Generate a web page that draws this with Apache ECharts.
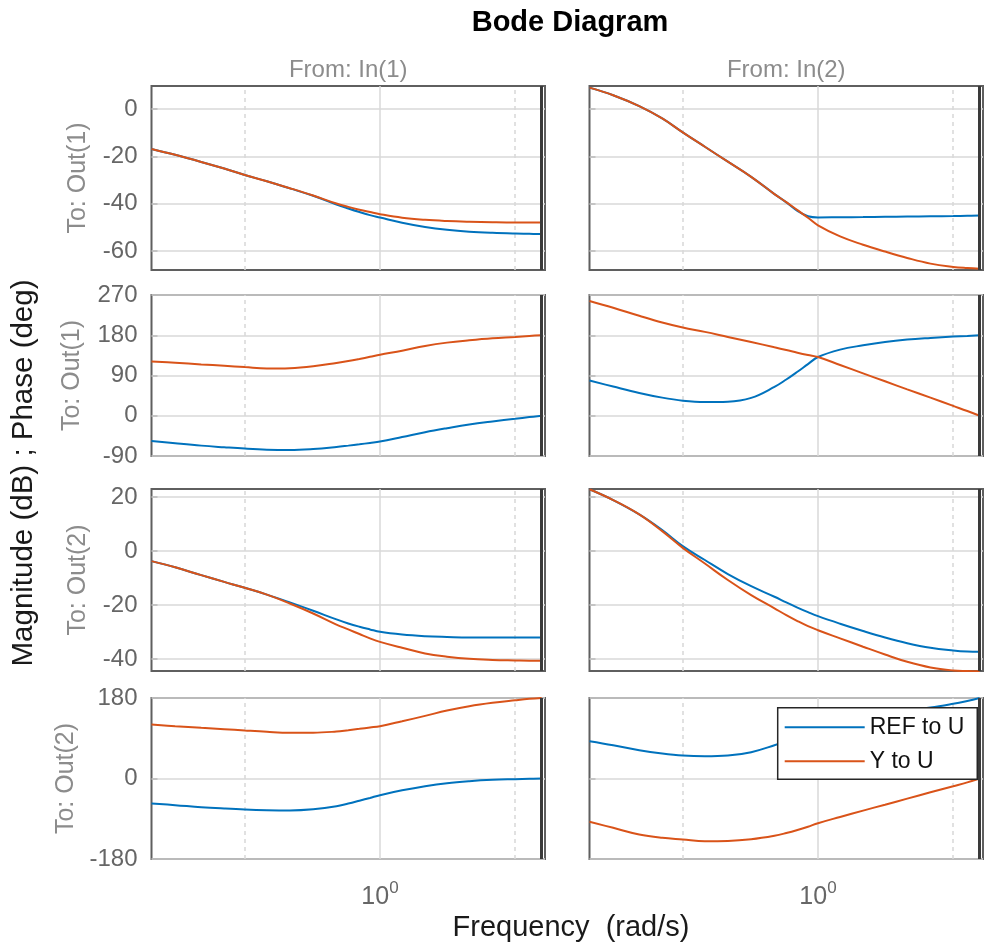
<!DOCTYPE html>
<html><head><meta charset="utf-8">
<script src="https://cdn.jsdelivr.net/npm/echarts@6/dist/echarts.min.js"></script>
<style>html,body{margin:0;padding:0;background:#fff}#c{width:988px;height:949px}</style>
</head><body><div id="c"></div>
<script>
// ---------- data ----------
const freq = [0.31,0.35,0.4,0.45,0.5,0.56,0.63,0.71,0.8,0.85,0.9,0.95,1.0,1.12,1.26,1.41,1.58,1.78,2.0,2.15,2.29];
const freqRange = [0.31, 2.33];
const nyquistFreq = 2.29;
const xMinorGrid = [0.5, 2];
const xMajorGrid = [1];
const xTickLabels = [1];
const seriesNames = ['REF to U', 'Y to U'];
const colLabels = ['From: In(1)', 'From: In(2)'];
const rowLabels = ['To: Out(1)', 'To: Out(1)', 'To: Out(2)', 'To: Out(2)'];
const yTicksRow = [[-60,-40,-20,0],[-90,0,90,180,270],[-40,-20,0,20],[-180,0,180]];
const yRangeRow = [[-68,9.8],[-90,270],[-44.4,23],[-180,180]];

// Out(1) magnitude (dB)
const magOut1In1Ref = [-16.8,-19.3,-22.3,-25.1,-27.8,-30.5,-33.5,-36.6,-40.3,-42.0,-43.5,-44.8,-45.8,-48.0,-49.8,-51.0,-51.8,-52.3,-52.6,-52.7,-52.8];
const magOut1In1Y   = [-16.8,-19.3,-22.3,-25.1,-27.8,-30.5,-33.4,-36.5,-39.9,-41.3,-42.5,-43.5,-44.4,-45.9,-46.8,-47.3,-47.6,-47.8,-47.9,-47.9,-47.9];
const magOut1In2Ref = [9.1,5.9,1.3,-3.9,-9.8,-15.9,-22.2,-28.6,-35.9,-39.4,-43.0,-45.3,-45.8,-45.7,-45.6,-45.5,-45.4,-45.3,-45.2,-45.1,-45.0];
const magOut1In2Y   = [9.1,5.9,1.3,-3.9,-9.8,-15.9,-22.2,-28.6,-35.9,-39.3,-42.7,-45.9,-49.1,-53.8,-57.3,-60.2,-62.9,-65.3,-66.7,-67.2,-67.5];
// Out(1) phase (deg)
const phOut1In1Ref = [-56.3,-61.5,-66.8,-70.5,-73.5,-75.8,-76.5,-74.3,-69.8,-66.8,-63.8,-60.8,-57.8,-47.7,-36.8,-27.8,-19.5,-12.7,-6.8,-3.0,0];
const phOut1In1Y   = [121.5,118.5,114.8,111.8,108.8,105.6,106.3,110.5,118.0,122.3,127.0,131.8,136.5,145.5,156.0,163.5,168.8,173.3,176.3,178.5,180];
const phOut1In2Ref = [78.8,65.3,51.0,40.5,33.8,30.8,31.5,40.0,64.5,81.0,98.3,115.5,131.3,147.8,157.5,165.0,170.3,174.0,177.0,178.5,180];
const phOut1In2Y   = [256.5,241.5,223.5,208.5,197.3,187.5,176.3,165.0,153.0,147.0,141.0,135.8,131.3,113.5,94.8,77.0,59.0,40.5,22.0,10.6,0];
// Out(2) magnitude (dB)
const magOut2In1Ref = [-3.7,-6.0,-8.9,-11.4,-13.6,-16.1,-19.0,-22.1,-25.3,-26.8,-28.0,-29.0,-29.9,-30.9,-31.5,-31.8,-32.0,-32.0,-32.0,-32.0,-32.0];
const magOut2In1Y   = [-3.7,-6.0,-8.9,-11.4,-13.6,-16.1,-19.4,-23.1,-27.2,-29.0,-30.7,-32.3,-33.6,-35.8,-37.9,-39.1,-39.9,-40.3,-40.5,-40.6,-40.6];
const magOut2In2Ref = [22.9,18.9,13.6,7.8,1.85,-3.3,-8.5,-13.0,-16.9,-19.0,-20.9,-22.6,-24.1,-26.9,-29.6,-32.0,-34.1,-35.8,-36.8,-37.2,-37.3];
const magOut2In2Y   = [22.9,18.9,13.6,7.4,1.2,-4.6,-10.7,-16.3,-21.2,-23.7,-25.9,-27.8,-29.3,-32.3,-35.4,-38.3,-41.0,-43.1,-44.2,-44.4,-44.5];
// Out(2) phase (deg)
const phOut2In1Ref = [-55.9,-59.6,-64.1,-67.1,-69.3,-70.8,-71.4,-68.8,-62.2,-56.0,-49.6,-43.4,-37.3,-26.5,-17.2,-10.4,-6.0,-3.0,-1.5,-0.7,0];
const phOut2In1Y   = [120.7,117.0,113.3,110.3,107.3,104.4,102.4,102.4,105.0,108.0,111.0,114.0,117.0,128.0,140.0,152.0,161.7,169.3,175.0,178.2,180];
const phOut2In2Ref = [83.5,74.5,63.3,55.9,51.4,49.9,51.4,58.9,74.5,84.0,94.0,103.0,111.0,125.0,137.0,146.0,153.0,158.5,167.0,173.5,180];
const phOut2In2Y   = [-96.9,-110.3,-125.2,-132.7,-136.4,-140.2,-139.6,-135.8,-128.0,-122.0,-115.2,-107.8,-100.0,-86.0,-71.8,-58.6,-45.0,-30.9,-17.2,-8.6,0];

const panelData = [
  [magOut1In1Ref, magOut1In1Y], [magOut1In2Ref, magOut1In2Y],
  [phOut1In1Ref, phOut1In1Y],   [phOut1In2Ref, phOut1In2Y],
  [magOut2In1Ref, magOut2In1Y], [magOut2In2Ref, magOut2In2Y],
  [phOut2In1Ref, phOut2In1Y],   [phOut2In2Ref, phOut2In2Y]
];

// ---------- layout / style ----------
const FONT = 'Liberation Sans, Arial, Helvetica, sans-serif';
const colLeft = [151.5, 589.5], colWidth = 393.5;
const rowTop = [86, 295, 489, 698], rowHeight = [184, 161, 182, 161];
const colors = ['#0072BD', '#D95319'];
const gridColor = '#d8d8d8', boxColor = '#5f5f5f', tickTextColor = '#666666', subLabelColor = '#8c8c8c';

const grids = [], xAxes = [], yAxes = [], series = [];
for (let r = 0; r < 4; r++) {
  for (let c = 0; c < 2; c++) {
    const g = r * 2 + c;
    grids.push({ left: colLeft[c], top: rowTop[r], width: colWidth, height: rowHeight[r],
      show: true, borderColor: boxColor, borderWidth: 2, backgroundColor: '#fff', containLabel: false });
    xAxes.push({
      type: 'log', logBase: 10, gridIndex: g, min: freqRange[0], max: freqRange[1],
      axisLine: { show: false }, axisTick: { show: false }, splitLine: { show: false },
      axisLabel: r === 3 ? {
        show: true, customValues: xTickLabels, margin: 21,
        formatter: () => '{b|10}{s|0}',
        rich: {
          b: { fontSize: 25, fontFamily: FONT, color: tickTextColor, lineHeight: 34 },
          s: { fontSize: 17, fontFamily: FONT, color: tickTextColor, lineHeight: 18, verticalAlign: 'top' }
        }
      } : { show: false }
    });
    yAxes.push({
      type: 'value', gridIndex: g, min: yRangeRow[r][0], max: yRangeRow[r][1],
      axisLine: { show: false }, splitLine: { show: false },
      axisTick: { show: true, inside: true, length: 6, customValues: yTicksRow[r], lineStyle: { color: boxColor, width: 1.5 } },
      axisLabel: c === 0 ? { show: true, customValues: yTicksRow[r], fontSize: 24, fontFamily: FONT, color: tickTextColor, margin: 14 } : { show: false }
    });
    for (let s = 0; s < 2; s++) {
      const ser = {
        type: 'line', name: seriesNames[s], xAxisIndex: g, yAxisIndex: g,
        data: freq.map((f, i) => [f, panelData[g][s][i]]),
        showSymbol: false, smooth: 0.4, clip: true,
        lineStyle: { color: colors[s], width: 2 }, itemStyle: { color: colors[s] },
        z: 3 + s, animation: false
      };
      if (s === 0) {
        ser.markLine = {
          silent: true, symbol: 'none', z: 1, animation: false, label: { show: false },
          lineStyle: { color: gridColor, width: 1.5, type: 'solid' },
          data: [
            ...xMinorGrid.map(v => ({ xAxis: v, lineStyle: { color: gridColor, width: 1.5, type: [4, 4] } })),
            ...xMajorGrid.map(v => ({ xAxis: v })),
            ...yTicksRow[r].map(v => ({ yAxis: v }))
          ]
        };
      } else {
        ser.markLine = {
          silent: true, symbol: 'none', z: 6, animation: false, label: { show: false },
          lineStyle: { color: '#3a3a3a', width: 3, type: 'solid' },
          data: [{ xAxis: nyquistFreq }]
        };
      }
      series.push(ser);
    }
  }
}

const texts = [];
texts.push({ type: 'text', x: 570, y: 23, style: { text: 'Bode Diagram', font: 'bold 29px ' + FONT, fill: '#000', textAlign: 'center', textVerticalAlign: 'middle' } });
for (let c = 0; c < 2; c++) {
  texts.push({ type: 'text', x: colLeft[c] + colWidth / 2, y: 70, style: { text: colLabels[c], font: '24px ' + FONT, fill: subLabelColor, textAlign: 'center', textVerticalAlign: 'middle' } });
}
const rowLabelX = [78, 72, 78, 66];
for (let r = 0; r < 4; r++) {
  texts.push({ type: 'text', x: rowLabelX[r], y: rowTop[r] + rowHeight[r] / 2, rotation: Math.PI / 2,
    style: { text: rowLabels[r], font: '25px ' + FONT, fill: subLabelColor, textAlign: 'center', textVerticalAlign: 'middle' } });
}
texts.push({ type: 'text', x: 24, y: 473, rotation: Math.PI / 2, style: { text: 'Magnitude (dB) ; Phase (deg)', font: '29.5px ' + FONT, fill: '#1a1a1a', textAlign: 'center', textVerticalAlign: 'middle' } });
texts.push({ type: 'text', x: 571, y: 928, style: { text: 'Frequency  (rad/s)', font: '29px ' + FONT, fill: '#1a1a1a', textAlign: 'center', textVerticalAlign: 'middle' } });

const chart = echarts.init(document.getElementById('c'), null, { renderer: 'canvas' });
chart.setOption({
  animation: false,
  backgroundColor: '#fff',
  grid: grids, xAxis: xAxes, yAxis: yAxes, series: series,
  legend: {
    data: seriesNames, orient: 'vertical', left: 777.7, top: 707.7, z: 20,
    icon: 'rect', itemWidth: 80, itemHeight: 2, itemGap: 8,
    padding: [6.6, 13, 5, 7], backgroundColor: '#fff', borderColor: '#262626', borderWidth: 1.5,
    textStyle: { fontSize: 23, fontFamily: FONT, color: '#111', lineHeight: 26 },
    selectedMode: false
  },
  graphic: texts
});
</script>
</body></html>
